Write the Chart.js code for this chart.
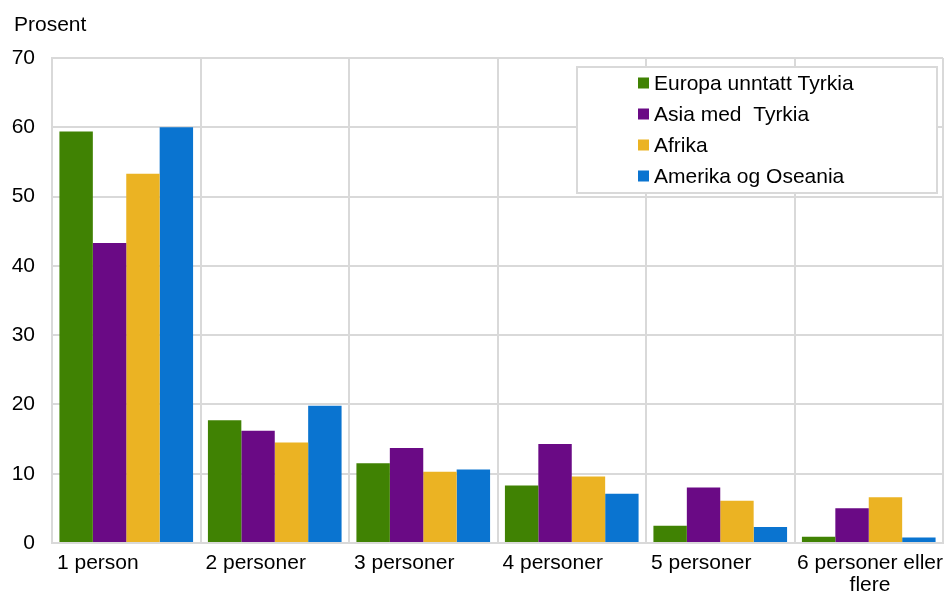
<!DOCTYPE html>
<html><head><meta charset="utf-8">
<script src="https://cdn.jsdelivr.net/npm/chart.js@4.4.1/dist/chart.umd.min.js"></script>
<style>html,body{margin:0;padding:0;background:#fff;}#wrap{width:945px;height:592px;}</style>
</head><body><div id="wrap"><canvas id="c" width="945" height="592"></canvas></div>
<script>
const categories = ['1 person', '2 personer', '3 personer', '4 personer', '5 personer', ['6 personer eller', 'flere']];
const seriesNames = ['Europa unntatt Tyrkia', 'Asia med  Tyrkia', 'Afrika', 'Amerika og Oseania'];
const europa = [59.4, 17.7, 11.5, 8.3, 2.5, 0.9];
const asia = [43.3, 16.2, 13.7, 14.3, 8.0, 5.0];
const afrika = [53.3, 14.5, 10.3, 9.6, 6.1, 6.6];
const amerika = [60.0, 19.8, 10.6, 7.1, 2.3, 0.8];
const yTicks = [0, 10, 20, 30, 40, 50, 60, 70];
const yTitle = 'Prosent';

const colors = ['#408203', '#6a0a85', '#ebb323', '#0a74d0'];
const FONT = "Arial, 'Liberation Sans', sans-serif";
const seriesValues = [europa, asia, afrika, amerika];

const extras = {
  id: 'extras',
  afterDraw(chart) {
    const ctx = chart.ctx;
    const xs = chart.scales.x;
    const ca = chart.chartArea;
    ctx.save();
    ctx.fillStyle = '#000';
    ctx.font = '21px ' + FONT;
    ctx.textBaseline = 'alphabetic';
    // y title
    ctx.textAlign = 'left';
    ctx.fillText(yTitle, 14, 31);
    // category labels
    const n = categories.length;
    const half = xs.width / n / 2;
    categories.forEach((lab, i) => {
      const lines = Array.isArray(lab) ? lab : [lab];
      const c = xs.getPixelForValue(i);
      const start = c - half, end = c + half;
      const widths = lines.map(l => ctx.measureText(l).width);
      const bw = Math.max(...widths);
      const left = Math.min(start + 5, end - bw);
      lines.forEach((l, j) => {
        ctx.fillText(l, left + (bw - widths[j]) / 2, xs.top + 26 + j * 22);
      });
    });
    // legend
    const bx = ca.right - 366, by = ca.top + 9, bwid = 360, bh = 126;
    ctx.fillStyle = '#fff';
    ctx.fillRect(bx, by, bwid, bh);
    ctx.strokeStyle = '#d9d9d9';
    ctx.lineWidth = 2;
    ctx.strokeRect(bx, by, bwid, bh);
    chart.data.datasets.forEach((ds, k) => {
      const base = by + 23 + k * 31;
      ctx.fillStyle = ds.backgroundColor;
      ctx.fillRect(bx + 61, base - 12.5, 11, 11);
      ctx.fillStyle = '#000';
      ctx.fillText(ds.label, bx + 77, base);
    });
    ctx.restore();
  }
};

new Chart(document.getElementById('c'), {
  type: 'bar',
  data: {
    labels: categories,
    datasets: seriesNames.map((name, k) => ({
      label: name,
      data: seriesValues[k],
      backgroundColor: colors[k],
      borderWidth: 0,
      categoryPercentage: 0.9,
      barPercentage: 1.0
    }))
  },
  options: {
    responsive: false,
    devicePixelRatio: 1,
    animation: false,
    layout: { padding: { top: 58, right: 2, bottom: 0, left: 0 } },
    plugins: { legend: { display: false }, tooltip: { enabled: false }, title: { display: false } },
    scales: {
      x: {
        grid: { color: '#d9d9d9', lineWidth: 2, drawTicks: false, offset: true },
        border: { display: true, color: '#d9d9d9', width: 2 },
        ticks: { display: false },
        afterFit(s) { s.height = 49; }
      },
      y: {
        min: yTicks[0],
        max: yTicks[yTicks.length - 1],
        afterBuildTicks(s) { s.ticks = yTicks.map(v => ({ value: v })); },
        ticks: { font: { size: 21, family: FONT }, color: '#000', padding: 17 },
        grid: { color: '#d9d9d9', lineWidth: 2, drawTicks: false },
        border: { display: true, color: '#d9d9d9', width: 2 },
        afterFit(s) { s.width = 52; }
      }
    }
  },
  plugins: [extras]
});
</script>
</body></html>
